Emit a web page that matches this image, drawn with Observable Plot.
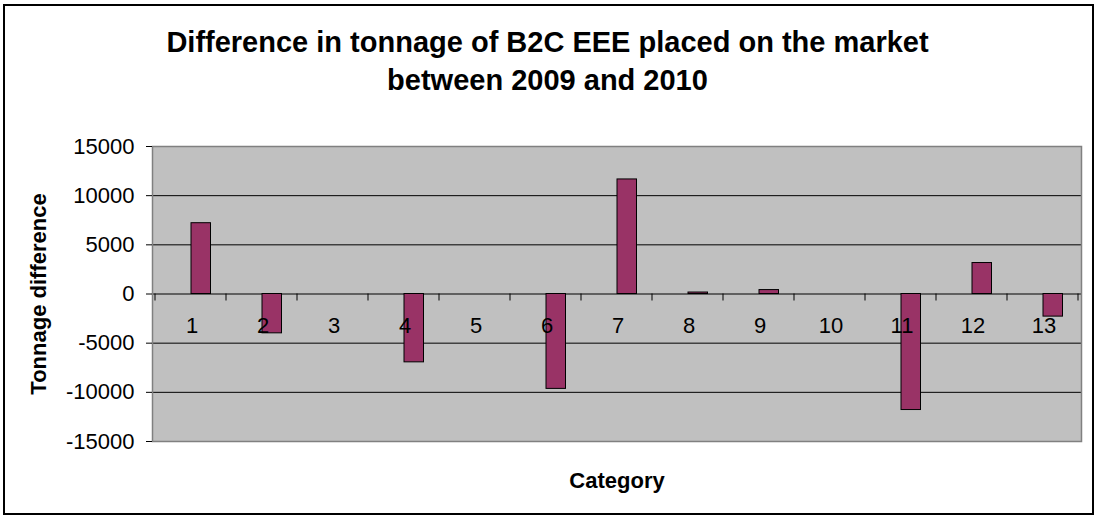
<!DOCTYPE html>
<html>
<head>
<meta charset="utf-8">
<script src="https://cdn.jsdelivr.net/npm/d3@7"></script>
<script src="https://cdn.jsdelivr.net/npm/@observablehq/plot@0.6"></script>
<style>
  html, body { margin: 0; padding: 0; background: #fff; }
  body { font-family: "Liberation Sans", Arial, sans-serif; color: #000; }
  #wrap { position: relative; width: 1095px; height: 518px; overflow: hidden; background: #fff; }
  #title { box-sizing: border-box; width: 1095px; height: 100px; padding-top: 23px;
           text-align: center; font-size: 29px; font-weight: bold; line-height: 38px; }
  #border { position: absolute; left: 3px; top: 4px; width: 1091px; height: 511px;
            box-sizing: border-box; border: 2px solid #000; pointer-events: none; }
  #chart svg { display: block; }
</style>
</head>
<body>
<div id="wrap">
  <div id="title">Difference in tonnage of B2C EEE placed on the market<br>between 2009 and 2010</div>
  <div id="chart"></div>
  <div id="border"></div>
</div>
<script>
// ---- data ----
const categories = ["1","2","3","4","5","6","7","8","9","10","11","12","13"];
const values = [7200, -4000, 0, -6950, 0, -9650, 11650, 150, 400, 0, -11800, 3150, -2300];
const yTicks = [-15000, -10000, -5000, 0, 5000, 10000, 15000];
const yLabel = "Tonnage difference";
const xLabel = "Category";

const rows = categories.map((c, i) => ({cat: c, value: values[i]}));
const [yMin, yMax] = d3.extent(yTicks);

// tick marks at category boundaries, hanging below the zero line
function categoryTicks(index, scales) {
  const x = scales.x, y = scales.y;
  const bw = typeof x.bandwidth === "function" ? x.bandwidth() : x.bandwidth;
  const y0 = y(0);
  const g = d3.create("svg:g").attr("stroke", "#000").attr("stroke-width", 1);
  const bounds = [x(categories[0])].concat(categories.map(c => x(c) + bw));
  for (const bx of bounds) {
    g.append("line").attr("x1", bx).attr("x2", bx).attr("y1", y0).attr("y2", y0 + 7);
  }
  return g.node();
}

const chart = Plot.plot({
  width: 1095,
  height: 418,
  marginTop: 46,
  marginLeft: 152,
  marginRight: 14,
  marginBottom: 77,
  style: {fontFamily: '"Liberation Sans", Arial, sans-serif', fontSize: "22px", color: "#000", background: "#fff", overflow: "visible"},
  x: {type: "band", domain: categories, padding: 0, axis: null},
  y: {domain: [yMin, yMax], axis: null},
  marks: [
    Plot.frame({fill: "#c0c0c0", stroke: null}),
    Plot.ruleY(yTicks.filter(t => t > yMin && t < yMax), {stroke: "#000", strokeWidth: 1}),
    Plot.barY(rows, {x: "cat", y: "value", fill: "#993366", stroke: "#000", strokeWidth: 1, insetLeft: 36, insetRight: 15.5}),
    Plot.frame({stroke: "#808080", strokeWidth: 1.5}),
    Plot.axisY(yTicks, {anchor: "left", tickSize: 6, tickPadding: 12, tickFormat: d => String(d), fontSize: 22, label: null, stroke: "#000"}),
    categoryTicks,
    Plot.text(rows, {x: "cat", y: () => 0, text: "cat", dy: 32, dx: 1, fontSize: 22, lineAnchor: "middle", fill: "#000"}),
    Plot.text([yLabel], {frameAnchor: "left", rotate: -90, dx: -114, fontSize: 22, fontWeight: "bold", fill: "#000", textAnchor: "middle", lineAnchor: "middle"}),
    Plot.text([xLabel], {frameAnchor: "bottom", dy: 30.7, lineAnchor: "top", fontSize: 22, fontWeight: "bold", fill: "#000"})
  ]
});
document.getElementById("chart").appendChild(chart);
</script>
</body>
</html>
